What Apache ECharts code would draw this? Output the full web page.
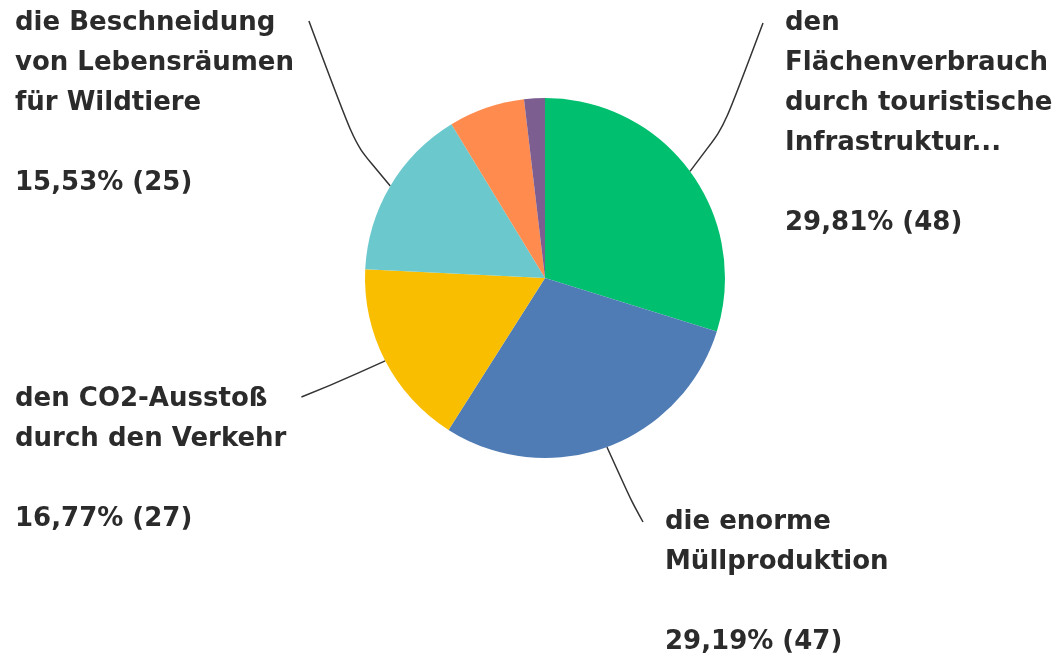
<!DOCTYPE html>
<html>
<head>
<meta charset="utf-8">
<script src="https://cdn.jsdelivr.net/npm/echarts@6/dist/echarts.min.js"></script>
<style>
  html, body { margin: 0; padding: 0; background: #fff; }
  #chart { width: 1063px; height: 658px; }
</style>
</head>
<body>
<div id="chart"></div>
<script>
// antworten (Reihenfolge im Uhrzeigersinn ab 12 Uhr)
const categories = [
  'den\nFlächenverbrauch\ndurch touristische\nInfrastruktur...',
  'die enorme\nMüllproduktion',
  'den CO2-Ausstoß\ndurch den Verkehr',
  'die Beschneidung\nvon Lebensräumen\nfür Wildtiere',
  'Sonstiges',
  'Keine Angabe'
];
const counts = [48, 47, 27, 25, 11, 3];
const colors = ['#00bf6f', '#507cb6', '#f9be00', '#6bc8cd', '#ff8b4f', '#7d5e90'];
const showLabel = [true, true, true, true, false, false];

// wo die beschriftungen stehen (links oben der textblock)
const labelSpots = [
  { x: 785, y: 3, side: 'right' },
  { x: 665, y: 502, side: 'right' },
  { x: 15, y: 379, side: 'left' },
  { x: 15, y: 3, side: 'left' }
];

const cx = 545, cy = 278, radius = 180;
const total = counts.reduce((a, b) => a + b, 0);

const chart = echarts.init(document.getElementById('chart'));

const seriesData = categories.map((name, i) => ({
  name: name,
  value: counts[i],
  itemStyle: { color: colors[i] },
  label: { show: showLabel[i] },
  labelLine: { show: showLabel[i] }
}));

chart.setOption({
  animation: false,
  series: [{
    type: 'pie',
    center: [cx, cy],
    radius: radius,
    startAngle: 90,
    clockwise: true,
    avoidLabelOverlap: false,
    data: seriesData,
    label: {
      position: 'outside',
      align: 'left',
      color: '#2b2b2b',
      fontFamily: 'DejaVu Sans',
      fontWeight: 'bold',
      fontSize: 26,
      lineHeight: 40,
      // prozent selbst rechnen, sonst rundet echarts auf 100 % hin
      formatter: p => p.name + '\n\n' + (p.value / total * 100).toFixed(2).replace('.', ',') + '% (' + p.value + ')'
    },
    labelLine: {
      show: true,
      smooth: 1,
      lineStyle: { color: '#333', width: 1.5 }
    },
    labelLayout: function (params) {
      const spot = labelSpots[params.dataIndex];
      if (!spot) return {};
      const w = params.labelRect.width;
      const start = params.labelLinePoints ? params.labelLinePoints[0] : [cx, cy];
      const ang = Math.atan2(start[1] - cy, start[0] - cx);
      const mid = [start[0] + Math.cos(ang) * 30, start[1] + Math.sin(ang) * 30];
      const end = spot.side === 'right'
        ? [spot.x - 22, spot.y + 20]
        : [spot.x + w + 15, spot.y + 18];
      return {
        x: spot.x,
        y: spot.y,
        align: 'left',
        verticalAlign: 'top',
        labelLinePoints: [start, mid, end]
      };
    }
  }]
});
</script>
</body>
</html>
